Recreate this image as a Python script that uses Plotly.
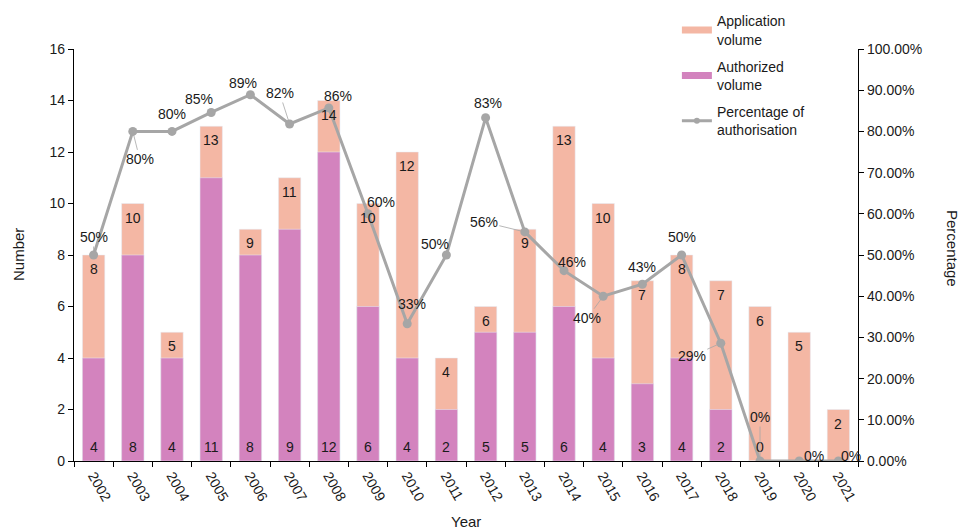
import plotly.graph_objects as go

years = [str(y) for y in range(2002, 2022)]
application = [8, 10, 5, 13, 9, 11, 14, 10, 12, 4, 6, 9, 13, 10, 7, 8, 7, 6, 5, 2]
authorized = [4, 8, 4, 11, 8, 9, 12, 6, 4, 2, 5, 5, 6, 4, 3, 4, 2, 0, 0, 0]
percentage = [50, 80, 80, 84.6, 88.9, 81.8, 85.7, 60, 33.3, 50, 83.3, 55.6, 46.2, 40, 42.9, 50, 28.6, 0, 0, 0]
authorized_labels = ["4", "8", "4", "11", "8", "9", "12", "6", "4", "2", "5", "5", "6", "4", "3", "4", "2", "0", "", ""]

# label placement offsets (px) for percentage labels, and whether a leader line is drawn
pct_offsets = [(0, -18), (7, 28), (0, -17), (-12, -13), (-7, -12), (-10, -31), (9, -12),
               (13, -12), (5, -20), (-11, -11), (2, -15), (-41, -10), (8, -9), (-16, 22),
               (0, -17), (0, -18), (-29, 13), (0, -44), (15, -5), (13, -5)]
pct_leader = [True, True, False, False, False, True, False, False, False, False, False,
              True, False, True, False, False, True, True, False, False]

APP_C = "#F4B7A4"
AUTH_C = "#D383BE"
LINE_C = "#A6A6A6"
TXT = "#1a1a1a"
FONT = "Liberation Sans, Arial, sans-serif"

fig = go.Figure()
fig.add_trace(go.Bar(x=years, y=application, marker_color=APP_C, width=0.57,
                     showlegend=False, name="Application volume"))
fig.add_trace(go.Bar(x=years, y=authorized, marker_color=AUTH_C, width=0.57,
                     showlegend=False, name="Authorized volume"))
fig.add_trace(go.Scatter(x=years, y=[p / 100 for p in percentage], yaxis="y2",
                         mode="lines+markers", line=dict(color=LINE_C, width=3),
                         marker=dict(color=LINE_C, size=9), showlegend=False,
                         name="Percentage of authorisation"))

# legend entries
fig.add_trace(go.Scatter(x=[years[0]], y=[None], mode="lines", line=dict(color=APP_C, width=7),
                         name="Application<br>volume", legendgroup="a"))
fig.add_trace(go.Scatter(x=[years[0]], y=[None], mode="lines", line=dict(color=AUTH_C, width=7),
                         name="Authorized<br>volume", legendgroup="b"))
fig.add_trace(go.Scatter(x=[years[0]], y=[None], mode="lines+markers", line=dict(color=LINE_C, width=3),
                         marker=dict(color=LINE_C, size=6), legendgroup="c",
                         name="Percentage of<br>authorisation"))

ann = []
for i, v in enumerate(application):
    ann.append(dict(x=i, y=v, text=str(v), showarrow=False, yshift=-14,
                    font=dict(size=14, color=TXT)))
for i, t in enumerate(authorized_labels):
    ann.append(dict(x=i, y=0, text=t, showarrow=False, yshift=14,
                    font=dict(size=14, color=TXT)))
for i, (p, (dx, dy), lead) in enumerate(zip(percentage, pct_offsets, pct_leader)):
    ann.append(dict(x=i, y=p / 100, yref="y2", text=f"{round(p)}%", showarrow=True,
                    ax=dx, ay=dy, arrowhead=0, arrowwidth=0.8, standoff=3,
                    arrowcolor=LINE_C if lead else "rgba(0,0,0,0)",
                    font=dict(size=14, color=TXT)))

ann.append(dict(x=0, y=0.5, xref="paper", yref="paper", xshift=-56, text="Number",
                xanchor="center", yanchor="middle",
                textangle=-90, showarrow=False, font=dict(size=15, color=TXT)))
ann.append(dict(x=1, y=0.517, xref="paper", yref="paper", xshift=94, text="Percentage",
                xanchor="center", yanchor="middle",
                textangle=90, showarrow=False, font=dict(size=15, color=TXT)))
ann.append(dict(x=0.5, y=0, xref="paper", yref="paper", yshift=-60, text="Year",
                xanchor="center", yanchor="middle",
                showarrow=False, font=dict(size=15, color=TXT)))

fig.update_layout(
    width=961, height=521,
    margin=dict(l=66, r=111, t=41, b=68, autoexpand=False),
    paper_bgcolor="white", plot_bgcolor="white",
    barmode="overlay",
    font=dict(family=FONT, size=14, color=TXT),
    xaxis=dict(type="category", categoryorder="array", categoryarray=years,
               range=[-0.5, len(years) - 0.5], tickangle=60, showline=True,
               linecolor="black", linewidth=1.3, automargin=False,
               ticks="outside", ticklen=5, tickcolor="black", tickson="boundaries",
               showgrid=False, tickfont=dict(size=14, color=TXT)),
    yaxis=dict(range=[0, 16], dtick=2, showline=True, linecolor="black", linewidth=1.3,
               ticks="outside", ticklen=5, tickcolor="black", showgrid=False, zeroline=False,
               automargin=False, tickfont=dict(size=14, color=TXT)),
    yaxis2=dict(range=[0, 1], dtick=0.1, tickformat=".2%", overlaying="y", side="right",
                showline=True, linecolor="black", linewidth=1.3, ticks="outside", ticklen=5,
                tickcolor="black", showgrid=False, zeroline=False, automargin=False,
                tickfont=dict(size=14, color=TXT)),
    legend=dict(x=0.769, y=1.106, xanchor="left", yanchor="top", bgcolor="rgba(0,0,0,0)",
                font=dict(size=14, color=TXT), tracegroupgap=6),
    annotations=ann,
)

fig.write_html("out.html")
